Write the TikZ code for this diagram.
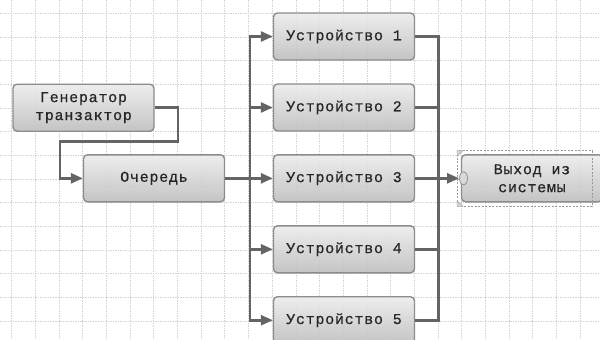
\documentclass[tikz,border=0pt]{standalone}
\usepackage{fontspec}
\newfontfamily\boxfont[LetterSpace=5,FakeBold=0.6]{Liberation Mono}
\usetikzlibrary{arrows.meta,shapes.geometric}
\definecolor{gridc}{HTML}{D4D4D4}
\definecolor{wire}{HTML}{646464}
\definecolor{boxedge}{HTML}{8C8C8C}
\definecolor{boxtop}{HTML}{ECECEC}
\definecolor{boxbot}{HTML}{BEBEBE}
\tikzset{
  block/.style={draw=boxedge, line width=1.4pt, rounded corners=4pt,
    top color=boxtop, bottom color=boxbot, fill opacity=0.9, text opacity=1,
    minimum width=141pt, minimum height=47pt, inner sep=0pt,
    font=\boxfont\fontsize{15}{18}\selectfont, text=black!85, align=center},
  wireline/.style={draw=wire, line width=2.6pt, line join=miter},
  feed/.style={wireline, -{Triangle[length=12pt,width=10pt]}},
  gridline/.style={draw=gridc, line width=0.7pt, dash pattern=on 1.5pt off 1pt},
}
\begin{document}
\begin{tikzpicture}[x=1pt,y=-1pt]
  \useasboundingbox (0,0) rectangle (600,340);
  \fill[white] (0,0) rectangle (600,340);
  % background grid
  \foreach \k in {0,...,25} {
    \draw[gridline] ({11.7+23.68*\k},0) -- ({11.7+23.68*\k},340);
  }
  \foreach \k in {0,...,14} {
    \draw[gridline] (0,{13.3+23.68*\k}) -- (600,{13.3+23.68*\k});
  }
  % blocks
  \node[block] (gen) at (83.5,107.7) {Генератор\\транзактор};
  \node[block] (queue) at (154,178.3) {Очередь};
  \foreach \i/\y in {1/36.5,2/107.5,3/178.3,4/249.3,5/320.2} {
    \node[block] (d\i) at (344,\y) {Устройство \i};
  }
  \node[block] (exit) at (532,178.3) {Выход из\\системы};
  % selection frame around the exit block
  \draw[draw=gray!80, line width=0.8pt, dash pattern=on 2pt off 1.5pt]
    (457,150.5) rectangle (592,206.5);
  \foreach \cx/\cy/\sx/\sy in {457/150.5/1/1,457/206.5/1/-1} {
    \fill[gray!35, draw=gray!70, line width=0.4pt]
      (\cx,\cy) -- ++(6*\sx,0) -- ++(-6*\sx,6*\sy) -- cycle;
  }
  \node[ellipse, draw=gray!80, fill=gray!30, line width=0.9pt,
    minimum width=8pt, minimum height=13pt, inner sep=0pt] (port) at (463.5,178.3) {};
  % generator to queue
  \coordinate (g1) at (178,107.7);
  \coordinate (g2) at (178,141.7);
  \coordinate (g3) at (60,141.7);
  \draw[feed] (gen.east) -- (g1) -- (g2) -- (g3) |- (queue.west);
  % queue to the device bus
  \coordinate (lb) at (250,178.3);
  \coordinate (rb) at (438.5,178.3);
  \draw[wireline] (queue.east) -- (lb);
  \draw[wireline, line cap=rect] (lb |- d1) -- (lb |- d5);
  \draw[wireline, line cap=rect] (rb |- d1) -- (rb |- d5);
  \foreach \i in {1,...,5} {
    \draw[feed] (lb |- d\i) -- (d\i.west);
    \draw[wireline] (d\i.east) -- (rb |- d\i);
  }
  \draw[feed] (rb) -- (port.west);
\end{tikzpicture}
\end{document}
